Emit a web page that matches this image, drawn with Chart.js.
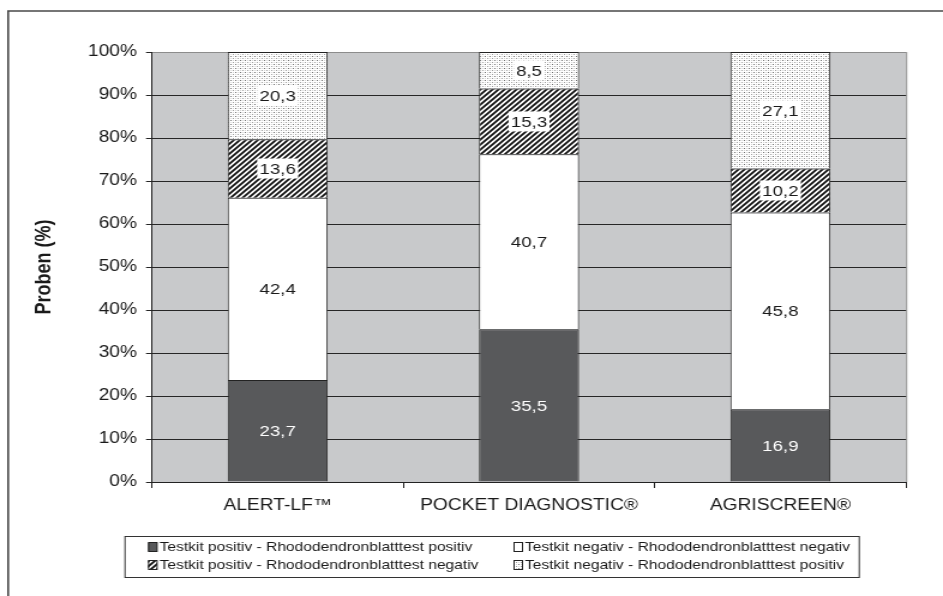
<!DOCTYPE html>
<html>
<head>
<meta charset="utf-8">
<script src="https://cdn.jsdelivr.net/npm/chart.js@4.4.1/dist/chart.umd.min.js"></script>
<style>
  html, body { margin: 0; padding: 0; background: #ffffff; overflow: hidden; }
</style>
</head>
<body>
<canvas id="c" width="786" height="596" style="display:block;width:943px;height:596px;"></canvas>
<script>
// ---- Data ----
const categories = ['ALERT-LF™', 'POCKET DIAGNOSTIC®', 'AGRISCREEN®'];
const seriesNames = [
  'Testkit positiv - Rhododendronblatttest positiv',
  'Testkit negativ - Rhododendronblatttest negativ',
  'Testkit positiv - Rhododendronblatttest negativ',
  'Testkit negativ - Rhododendronblatttest positiv'
];
const posPos = [23.7, 35.5, 16.9];
const negNeg = [42.4, 40.7, 45.8];
const posNeg = [13.6, 15.3, 10.2];
const negPos = [20.3, 8.5, 27.1];
const yMin = 0, yMax = 100, yStep = 10;
const yTitle = 'Proben (%)';

const FONT = '"Liberation Sans", Arial, Helvetica, sans-serif';
const canvas = document.getElementById('c');
const ctx0 = canvas.getContext('2d');

function hatchPattern() {
  const s = 5;
  const c = document.createElement('canvas'); c.width = s; c.height = s;
  const g = c.getContext('2d');
  g.fillStyle = '#ffffff'; g.fillRect(0, 0, s, s);
  g.strokeStyle = '#111111'; g.lineWidth = 1.8;
  g.beginPath();
  g.moveTo(-1, s + 1); g.lineTo(s + 1, -1);
  g.moveTo(-1, 1); g.lineTo(1, -1);
  g.moveTo(s - 1, s + 1); g.lineTo(s + 1, s - 1);
  g.stroke();
  return ctx0.createPattern(c, 'repeat');
}
function dotPattern() {
  const c = document.createElement('canvas'); c.width = 4; c.height = 4;
  const g = c.getContext('2d');
  g.fillStyle = '#ffffff'; g.fillRect(0, 0, 4, 4);
  g.fillStyle = '#707070'; g.fillRect(0, 0, 1, 1);
  g.fillStyle = '#a0a0a0'; g.fillRect(2, 2, 1, 1);
  g.fillStyle = '#d4d4d4'; g.fillRect(0, 2, 1, 1); g.fillRect(2, 0, 1, 1);
  return ctx0.createPattern(c, 'repeat');
}
const fills = ['#58595b', '#ffffff', hatchPattern(), dotPattern()];
const labelColors = ['#ffffff', '#1a1a1a', '#1a1a1a', '#1a1a1a'];
const labelBoxes = [false, false, true, true];

const seriesValues = [posPos, negNeg, posNeg, negPos];

const framePlugin = {
  id: 'frame',
  beforeDraw(chart) {
    const ctx = chart.ctx, a = chart.chartArea;
    ctx.save();
    ctx.fillStyle = '#ffffff';
    ctx.fillRect(0, 0, chart.width, chart.height);
    ctx.strokeStyle = '#4a4a4a'; ctx.lineWidth = 1.6;
    ctx.beginPath();
    ctx.moveTo(6.8, 600); ctx.lineTo(6.8, 11); ctx.lineTo(790, 11);
    ctx.stroke();
    ctx.fillStyle = '#c8c9cb';
    ctx.fillRect(a.left, a.top, a.right - a.left, a.bottom - a.top);
    ctx.strokeStyle = '#8c8c8c'; ctx.lineWidth = 1;
    ctx.beginPath();
    ctx.moveTo(a.right + 0.5, a.top); ctx.lineTo(a.right + 0.5, a.bottom);
    ctx.stroke();
    ctx.restore();
  }
};

const labelPlugin = {
  id: 'barLabels',
  afterDatasetsDraw(chart) {
    const ctx = chart.ctx;
    ctx.save();
    ctx.font = '15.5px ' + FONT;
    ctx.textAlign = 'center';
    ctx.textBaseline = 'middle';
    chart.data.datasets.forEach((ds, di) => {
      const meta = chart.getDatasetMeta(di);
      meta.data.forEach((el, i) => {
        const p = el.getProps(['x', 'y', 'base'], true);
        const cy = (p.y + p.base) / 2;
        const txt = ds.data[i].toFixed(1).replace('.', ',');
        const w = ctx.measureText(txt).width;
        if (labelBoxes[di]) {
          ctx.fillStyle = '#ffffff';
          ctx.fillRect(p.x - w / 2 - 2, cy - 10, w + 4, 20);
        }
        ctx.fillStyle = labelColors[di];
        ctx.fillText(txt, p.x, cy + 1);
      });
    });
    ctx.restore();
  }
};

const legendPlugin = {
  id: 'gridLegend',
  afterDraw(chart) {
    const ctx = chart.ctx;
    ctx.save();
    ctx.strokeStyle = '#333333'; ctx.lineWidth = 1;
    ctx.strokeRect(104.2, 536.5, 612, 41);
    ctx.font = '13px ' + FONT;
    ctx.textBaseline = 'middle';
    ctx.textAlign = 'left';
    const colX = [123.4, 428];
    const rowY = [547, 565];
    chart.data.datasets.forEach((ds, i) => {
      const x = colX[i % 2], y = rowY[Math.floor(i / 2)];
      ctx.fillStyle = ds.backgroundColor;
      ctx.fillRect(x, y - 4.5, 7.5, 9);
      ctx.strokeStyle = '#222222'; ctx.lineWidth = 1;
      ctx.strokeRect(x + 0.5, y - 4.5, 7, 9);
      ctx.fillStyle = '#1a1a1a';
      ctx.fillText(ds.label, x + 9.5, y + 0.5);
    });
    ctx.restore();
  }
};

const datasets = seriesNames.map((name, i) => ({
  label: name,
  data: seriesValues[i],
  backgroundColor: fills[i],
  borderColor: '#222222',
  borderWidth: 1,
  barPercentage: 1,
  categoryPercentage: 0.398
}));

new Chart(canvas, {
  type: 'bar',
  data: { labels: categories, datasets: datasets },
  plugins: [framePlugin, labelPlugin, legendPlugin],
  options: {
    responsive: false,
    animation: false,
    devicePixelRatio: 1,
    layout: { padding: { top: 52, left: 0, right: 30.8, bottom: 0 } },
    plugins: { legend: { display: false }, tooltip: { enabled: false }, title: { display: false } },
    scales: {
      x: {
        stacked: true,
        grid: { drawOnChartArea: false, drawTicks: true, tickLength: 6, color: '#222222', tickColor: '#222222', offset: true },
        border: { color: '#222222', width: 1 },
        ticks: { color: '#1a1a1a', font: { family: FONT, size: 16 }, padding: 8, maxRotation: 0, autoSkip: false },
        afterFit(scale) { scale.height = 114; }
      },
      y: {
        stacked: true,
        min: yMin, max: yMax,
        grid: {
          color: (c) => (c.tick && c.tick.value === yMax ? '#8c8c8c' : '#262626'),
          tickColor: '#262626',
          tickLength: 5,
          lineWidth: 1
        },
        border: { color: '#222222', width: 1 },
        ticks: {
          stepSize: yStep,
          color: '#1a1a1a',
          font: { family: FONT, size: 16 },
          padding: 7.5,
          callback: (v) => v + '%'
        },
        title: {
          display: true,
          text: yTitle,
          color: '#1a1a1a',
          font: { family: FONT, size: 18, weight: 'bold' },
          padding: { top: 26, bottom: 0 }
        },
        afterFit(scale) { scale.width = 126.7; }
      }
    }
  }
});
</script>
</body>
</html>
